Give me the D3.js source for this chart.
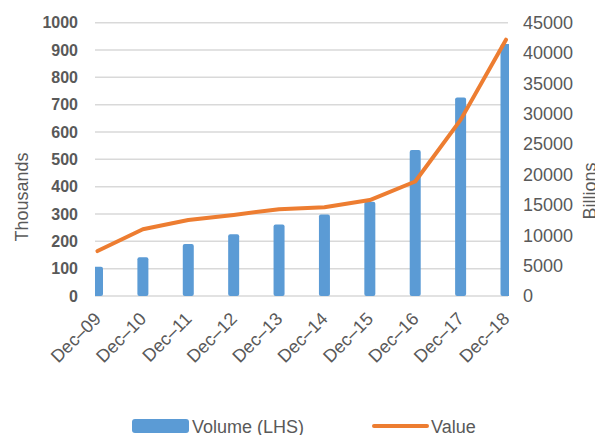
<!DOCTYPE html>
<html>
<head>
<meta charset="utf-8">
<script src="https://cdn.jsdelivr.net/npm/d3@7"></script>
<style>
  body { margin: 0; background: #fff; }
  svg { display: block; font-family: "Liberation Sans", Arial, sans-serif; }
  .grid line { stroke: #d9d9d9; stroke-width: 1.5; }
</style>
</head>
<body>
<svg id="chart" width="595" height="435"></svg>
<script>
const categories = ['Dec\u201309', 'Dec\u201310', 'Dec\u201311', 'Dec\u201312', 'Dec\u201313',
                    'Dec\u201314', 'Dec\u201315', 'Dec\u201316', 'Dec\u201317', 'Dec\u201318'];
const volume = [107, 142, 190, 226, 262, 298, 345, 534, 726, 922];      // thousands, LHS
const value = [7400, 11000, 12500, 13350, 14300, 14600, 15800, 18850, 29000, 42200]; // billions, RHS
const leftTicks = d3.range(0, 1001, 100);
const rightTicks = d3.range(0, 45001, 5000);

const svg = d3.select('#chart');
const plot = { left: 95, right: 509, top: 22.7, bottom: 296 };

const x = d3.scalePoint().domain(categories).range([97.5, 506]);
const yL = d3.scaleLinear().domain([0, 1000]).range([plot.bottom, plot.top]);
const yR = d3.scaleLinear().domain([0, 45000]).range([plot.bottom, plot.top]);

svg.append('clipPath').attr('id', 'plotclip')
  .append('rect')
  .attr('x', plot.left).attr('y', 0)
  .attr('width', plot.right - plot.left).attr('height', plot.bottom + 2);

// gridlines
svg.append('g').attr('class', 'grid')
  .selectAll('line').data(leftTicks).join('line')
  .attr('x1', plot.left).attr('x2', plot.right - 1)
  .attr('y1', d => yL(d)).attr('y2', d => yL(d));

// left axis
const leftAxis = svg.append('g')
  .attr('transform', 'translate(78,0)')
  .call(d3.axisLeft(yL).tickValues(leftTicks).tickFormat(d3.format('d')).tickSize(0).tickPadding(0));
leftAxis.select('.domain').remove();
leftAxis.selectAll('text')
  .attr('fill', '#595959').attr('font-size', 16).attr('font-weight', 'bold')
  .attr('font-family', '"Liberation Sans", Arial, sans-serif');

// right axis
const rightAxis = svg.append('g')
  .attr('transform', 'translate(523,0)')
  .call(d3.axisRight(yR).tickValues(rightTicks).tickFormat(d3.format('d')).tickSize(0).tickPadding(0));
rightAxis.select('.domain').remove();
rightAxis.selectAll('text')
  .attr('fill', '#595959').attr('font-size', 18)
  .attr('font-family', '"Liberation Sans", Arial, sans-serif');

// bars
const barW = 11;
svg.append('g').attr('clip-path', 'url(#plotclip)')
  .selectAll('rect').data(volume).join('rect')
  .attr('x', (d, i) => x(categories[i]) - barW / 2)
  .attr('y', d => yL(d))
  .attr('width', barW)
  .attr('height', d => plot.bottom - yL(d))
  .attr('rx', 2)
  .attr('fill', '#5b9bd5');

// line
const line = d3.line()
  .x((d, i) => x(categories[i]))
  .y(d => yR(d));
svg.append('path')
  .datum(value)
  .attr('d', line)
  .attr('fill', 'none')
  .attr('stroke', '#ed7d31')
  .attr('stroke-width', 4)
  .attr('stroke-linejoin', 'round')
  .attr('stroke-linecap', 'round');

// x labels
const xAxis = svg.append('g')
  .attr('transform', `translate(0,${plot.bottom})`)
  .call(d3.axisBottom(x).tickSize(0).tickPadding(0));
xAxis.select('.domain').remove();
xAxis.selectAll('text')
  .attr('fill', '#595959').attr('font-size', 18)
  .attr('font-family', '"Liberation Sans", Arial, sans-serif')
  .attr('text-anchor', 'end')
  .attr('dy', 0)
  .attr('transform', 'translate(4,24) rotate(-45)');

// axis titles
svg.append('text')
  .attr('transform', 'translate(28,197) rotate(-90)')
  .attr('text-anchor', 'middle')
  .attr('fill', '#595959').attr('font-size', 18)
  .text('Thousands');
svg.append('text')
  .attr('transform', 'translate(596,191) rotate(-90)')
  .attr('text-anchor', 'middle')
  .attr('fill', '#595959').attr('font-size', 18)
  .text('Billions');

// legend
const legend = svg.append('g');
legend.append('rect')
  .attr('x', 132).attr('y', 419).attr('width', 57).attr('height', 14)
  .attr('rx', 3).attr('fill', '#5b9bd5');
legend.append('text')
  .attr('x', 192).attr('y', 433)
  .attr('fill', '#595959').attr('font-size', 18)
  .text('Volume (LHS)');
legend.append('line')
  .attr('x1', 374).attr('x2', 427).attr('y1', 426).attr('y2', 426)
  .attr('stroke', '#ed7d31').attr('stroke-width', 4).attr('stroke-linecap', 'round');
legend.append('text')
  .attr('x', 431).attr('y', 433)
  .attr('fill', '#595959').attr('font-size', 18)
  .text('Value');
</script>
</body>
</html>
